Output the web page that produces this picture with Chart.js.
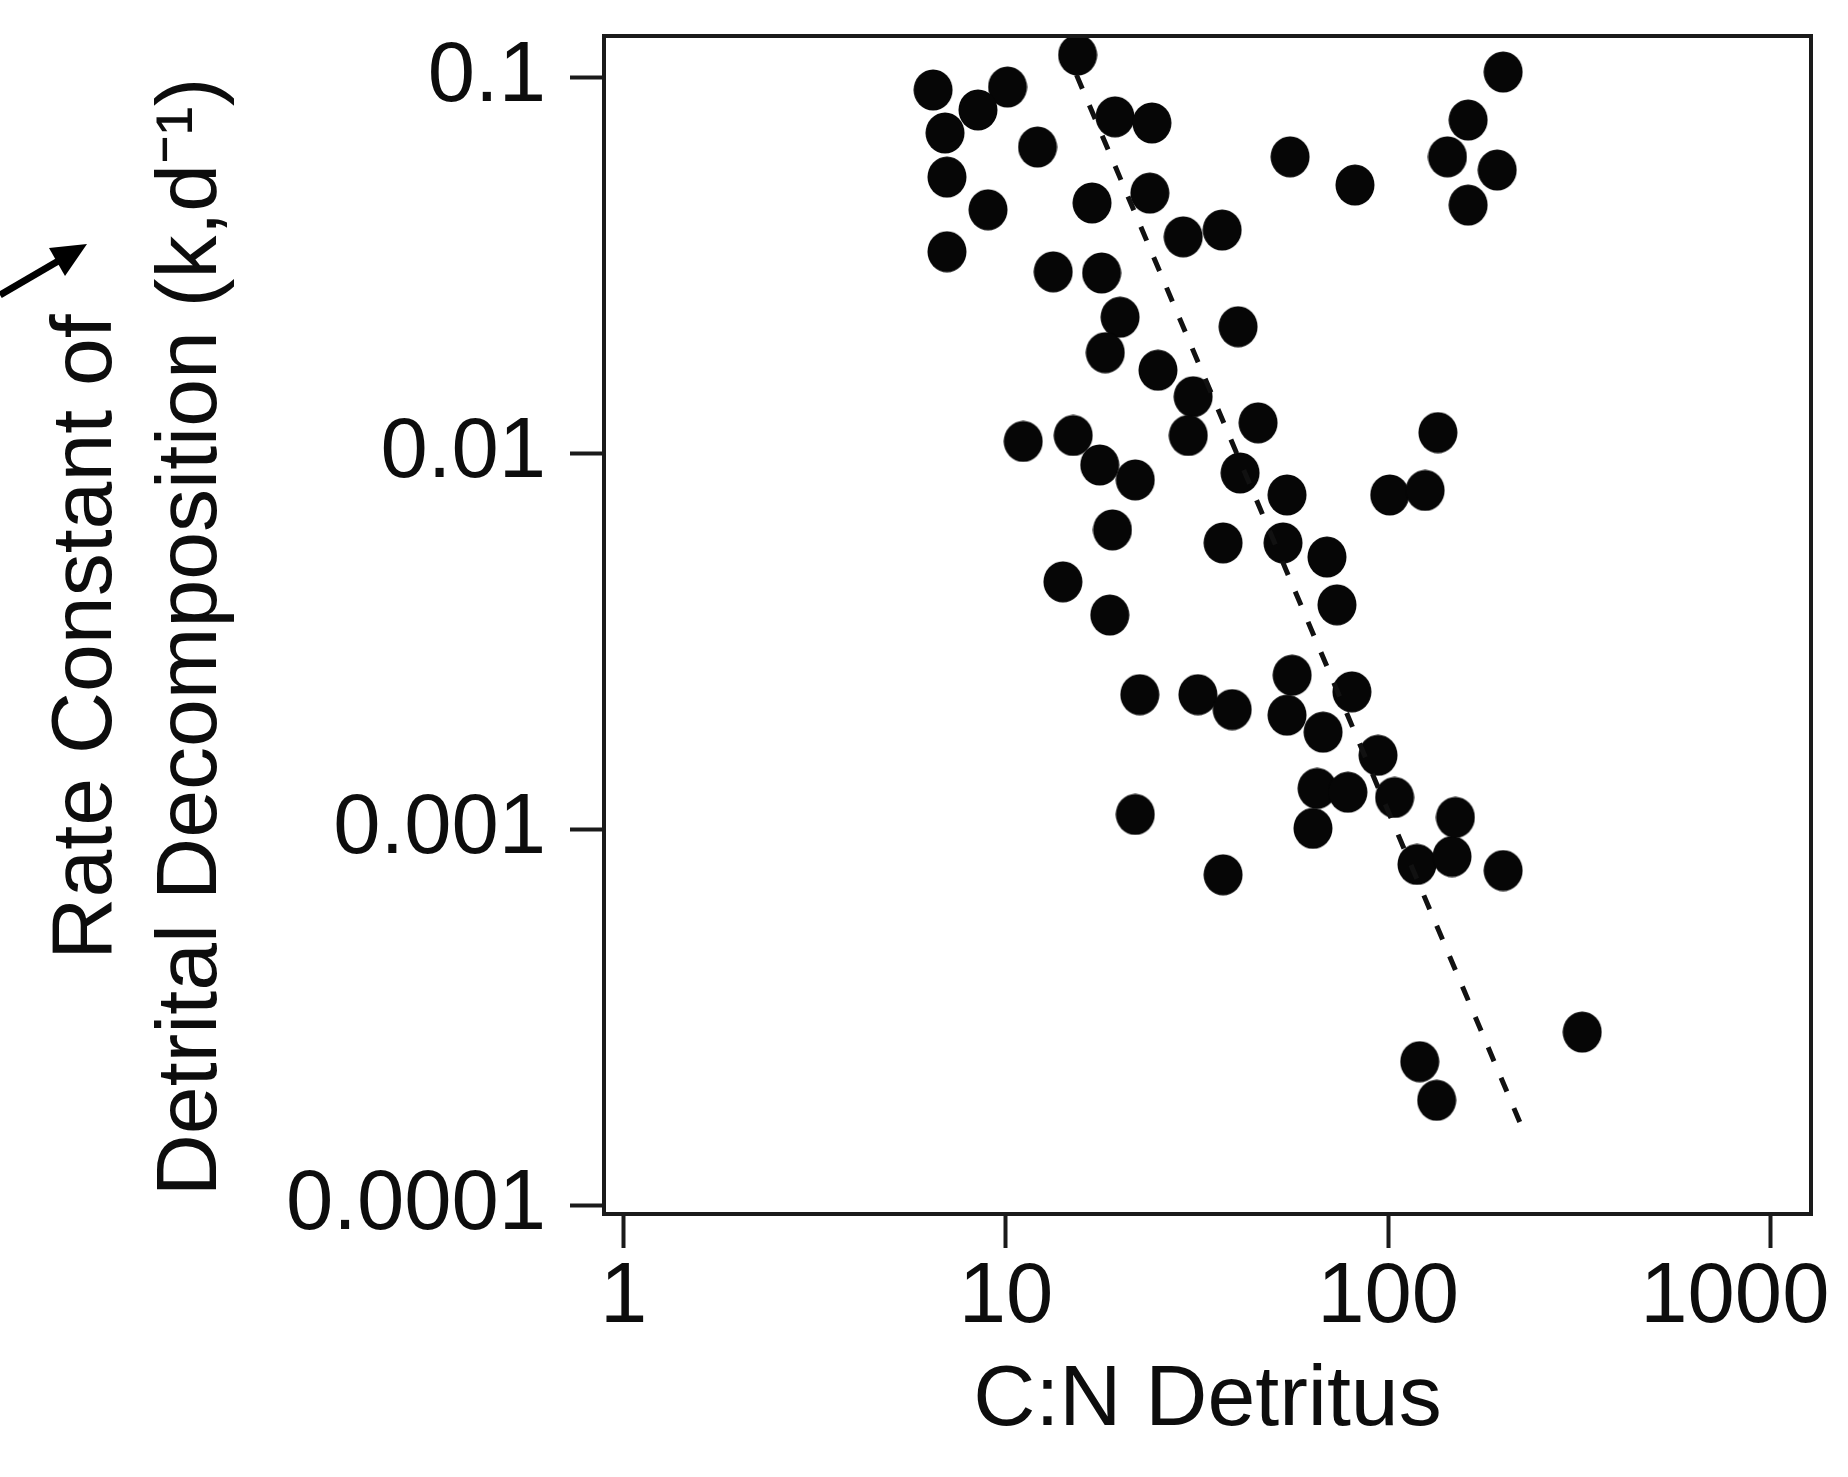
<!doctype html>
<html lang="en">
<head>
<meta charset="utf-8">
<title>Detrital decomposition vs C:N</title>
<script src="https://cdn.jsdelivr.net/npm/chart.js@4.4.1/dist/chart.umd.min.js"></script>
<style>
  html, body { margin: 0; padding: 0; background: #fff; }
  #wrap { width: 1848px; height: 1477px; position: relative; }
</style>
</head>
<body>
<div id="wrap"><canvas id="myChart"></canvas></div>
<script>
// C:N of detritus (x) against decomposition rate constant k, d-1 (y)
var cnRatio = [6.45, 10.1, 8.45, 6.93, 7.01, 8.98, 7.01, 12.1, 15.4, 19.3,
  24.1, 16.8, 23.8, 55.4, 81.9, 29.1, 36.8, 13.3, 17.8, 19.9,
  18.2, 40.5, 25.0, 30.9, 30.0, 45.7, 11.1, 15.0, 17.6, 21.8,
  41.0, 54.4, 101, 135, 125, 19.0, 37.0, 53.1, 69.2, 14.1,
  73.5, 18.7, 22.4, 31.8, 39.1, 56.1, 54.4, 80.4, 67.6, 94.1,
  65.2, 78.5, 104, 63.6, 21.8, 37.0, 119, 147, 150, 200,
  322, 121, 134, 200, 162, 143, 193, 162];
var kRate = [0.0929, 0.0946, 0.0822, 0.0714, 0.0545, 0.0446, 0.0345, 0.0655, 0.1151, 0.0788,
  0.0759, 0.0465, 0.0494, 0.0617, 0.0519, 0.0378, 0.0394, 0.0305, 0.0303, 0.0231,
  0.0186, 0.0218, 0.0167, 0.0142, 0.0112, 0.0121, 0.0108, 0.0112, 0.00935, 0.00853,
  0.0089, 0.00778, 0.00778, 0.0114, 0.0080, 0.00628, 0.0058, 0.0058, 0.00532, 0.00457,
  0.00397, 0.00373, 0.00229, 0.00229, 0.00209, 0.00258, 0.00202, 0.00233, 0.00182, 0.00158,
  0.00129, 0.00126, 0.00122, 0.00101, 0.0011, 0.00076, 0.00081, 0.00085, 0.00108, 0.00078,
  0.00029, 0.000242, 0.000191, 0.1037, 0.0773, 0.0617, 0.0569, 0.0459];

// ends of the dashed fit line
var fitCn = [15.3, 224];
var fitK = [0.1019, 0.000162];

var xTicks = [1, 10, 100, 1000];
var xTickLabels = ['1', '10', '100', '1000   '];
var yTicks = [0.0001, 0.001, 0.01, 0.1];
var yTickLabels = ['0.0001', '0.001', '0.01', '0.1'];

var ink = '#0d0d0d';
Chart.defaults.font.family = "'Liberation Sans', Arial, sans-serif";
Chart.defaults.color = ink;

// slightly tall black dot like the printed marker
var dot = document.createElement('canvas');
dot.width = 40; dot.height = 42;
var g = dot.getContext('2d');
g.fillStyle = '#060606';
g.beginPath();
g.ellipse(20, 21, 19.5, 20.5, 0, 0, Math.PI * 2);
g.fill();

var frame = {
  id: 'frame',
  afterDatasetsDraw: function(chart) {
    var a = chart.chartArea, ctx = chart.ctx;
    ctx.save();
    ctx.strokeStyle = '#1a1a1a';
    ctx.lineWidth = 4;
    ctx.strokeRect(a.left, a.top, a.right - a.left, a.bottom - a.top);
    // pointer arrow at the left edge
    ctx.strokeStyle = '#000';
    ctx.fillStyle = '#000';
    ctx.lineWidth = 7;
    ctx.beginPath();
    ctx.moveTo(0, 295);
    ctx.lineTo(60, 260);
    ctx.stroke();
    ctx.beginPath();
    ctx.moveTo(87, 244);
    ctx.lineTo(65, 276);
    ctx.lineTo(49, 248);
    ctx.closePath();
    ctx.fill();
    ctx.restore();
  }
};

var points = cnRatio.map(function(c, i) { return {x: c, y: kRate[i]}; });
var fitLine = fitCn.map(function(c, i) { return {x: c, y: fitK[i]}; });

new Chart(document.getElementById('myChart'), {
  type: 'scatter',
  data: {
    datasets: [{
      data: fitLine,
      showLine: true,
      borderColor: '#111',
      borderWidth: 5,
      borderDash: [15, 18],
      pointRadius: 0,
      clip: false
    }, {
      data: points,
      pointStyle: dot,
      pointRadius: 20,
      backgroundColor: '#060606',
      borderWidth: 0,
      clip: false
    }]
  },
  options: {
    responsive: true,
    maintainAspectRatio: false,
    animation: false,
    layout: { padding: { left: 0, top: 36, right: 37, bottom: 0 } },
    plugins: { legend: { display: false }, tooltip: { enabled: false } },
    scales: {
      x: {
        type: 'logarithmic',
        min: 0.888,
        max: 1278,
        afterBuildTicks: function(scale) {
          scale.ticks = xTicks.map(function(v) { return {value: v}; });
        },
        afterFit: function(scale) {
          scale.height = 263;
          scale.paddingLeft = 0;
          scale.paddingRight = 0;
        },
        border: { display: false },
        grid: { drawOnChartArea: false, tickLength: 34, tickWidth: 4, tickColor: '#1a1a1a' },
        ticks: {
          autoSkip: false,
          maxRotation: 0,
          padding: 8,
          font: { size: 85, lineHeight: 1 },
          callback: function(v) { return xTickLabels[xTicks.indexOf(v)]; }
        },
        title: {
          display: true,
          text: 'C:N Detritus',
          font: { size: 86, lineHeight: 1.2 },
          padding: { top: 0, bottom: 24 }
        }
      },
      y: {
        type: 'logarithmic',
        min: 0.0000952,
        max: 0.1293,
        afterBuildTicks: function(scale) {
          scale.ticks = yTicks.map(function(v) { return {value: v}; });
        },
        afterFit: function(scale) {
          scale.width = 604;
          scale.paddingTop = 0;
          scale.paddingBottom = 0;
        },
        border: { display: false },
        grid: { drawOnChartArea: false, tickLength: 34, tickWidth: 4, tickColor: '#1a1a1a' },
        ticks: {
          autoSkip: false,
          padding: 24,
          font: { size: 85 },
          callback: function(v) { return yTickLabels[yTicks.indexOf(v)]; }
        },
        title: {
          display: true,
          text: ['Rate Constant of ', 'Detrital Decomposition (k,d\u207B\u00B9) '],
          font: { size: 86, lineHeight: 1.22 },
          padding: { top: 35, bottom: 0 }
        }
      }
    }
  },
  plugins: [frame]
});
</script>
</body>
</html>
